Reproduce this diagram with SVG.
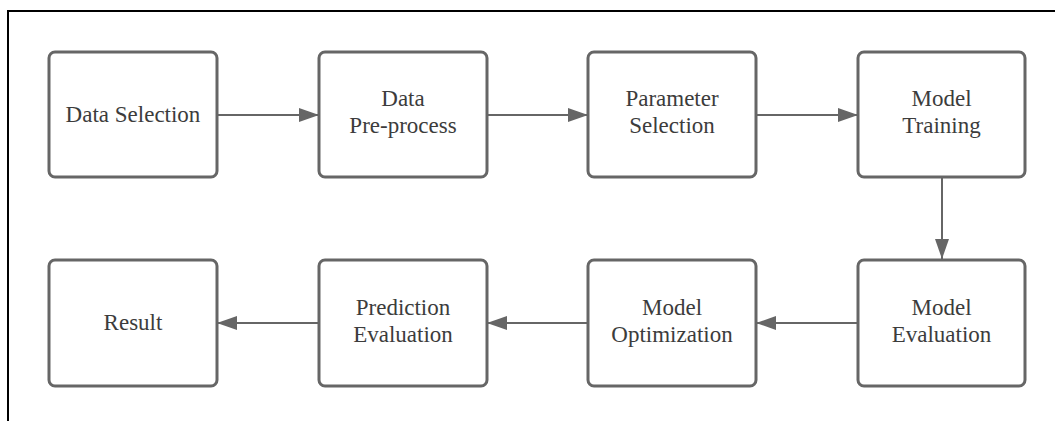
<svg xmlns="http://www.w3.org/2000/svg" width="1055" height="421" viewBox="0 0 1055 421">
<style>
.box{fill:#fff;stroke:#666;stroke-width:3}
.lbl{font-family:'Liberation Serif','Times New Roman',Times,'DejaVu Serif',serif;font-size:23px;fill:#3c3c3c;text-anchor:middle}
.con{stroke:#666;stroke-width:2;fill:none;marker-end:url(#ah)}
</style>
<defs>
<marker id="ah" markerWidth="20" markerHeight="14" refX="20" refY="7" orient="auto" markerUnits="userSpaceOnUse">
<path d="M0,0 L20,7 L0,14 Z" fill="#666"/>
</marker>
</defs>
<rect width="1055" height="421" fill="#fff"/>
<path d="M8,421 V11 H1055" fill="none" stroke="#000" stroke-width="2"/>
<g id="connectors">
<line class="con" x1="217" y1="115" x2="319" y2="115"/>
<line class="con" x1="487" y1="115" x2="588" y2="115"/>
<line class="con" x1="756" y1="115" x2="858" y2="115"/>
<line class="con" x1="942" y1="177" x2="942" y2="259"/>
<line class="con" x1="858" y1="323" x2="756" y2="323"/>
<line class="con" x1="588" y1="323" x2="487" y2="323"/>
<line class="con" x1="319" y1="323" x2="217" y2="323"/>
</g>
<g id="n1"><rect class="box" x="49" y="52" width="168" height="125" rx="6"/><text class="lbl" x="133" y="122">Data Selection</text></g>
<g id="n2"><rect class="box" x="319" y="52" width="168" height="125" rx="6"/><text class="lbl" x="403" y="106">Data</text><text class="lbl" x="403" y="133">Pre-process</text></g>
<g id="n3"><rect class="box" x="588" y="52" width="168" height="125" rx="6"/><text class="lbl" x="672" y="106">Parameter</text><text class="lbl" x="672" y="133">Selection</text></g>
<g id="n4"><rect class="box" x="858" y="52" width="167" height="125" rx="6"/><text class="lbl" x="941.5" y="106">Model</text><text class="lbl" x="941.5" y="133">Training</text></g>
<g id="n5"><rect class="box" x="858" y="260" width="167" height="126" rx="6"/><text class="lbl" x="941.5" y="315">Model</text><text class="lbl" x="941.5" y="342">Evaluation</text></g>
<g id="n6"><rect class="box" x="588" y="260" width="168" height="126" rx="6"/><text class="lbl" x="672" y="315">Model</text><text class="lbl" x="672" y="342">Optimization</text></g>
<g id="n7"><rect class="box" x="319" y="260" width="168" height="126" rx="6"/><text class="lbl" x="403" y="315">Prediction</text><text class="lbl" x="403" y="342">Evaluation</text></g>
<g id="n8"><rect class="box" x="49" y="260" width="168" height="126" rx="6"/><text class="lbl" x="133" y="330">Result</text></g>
</svg>
